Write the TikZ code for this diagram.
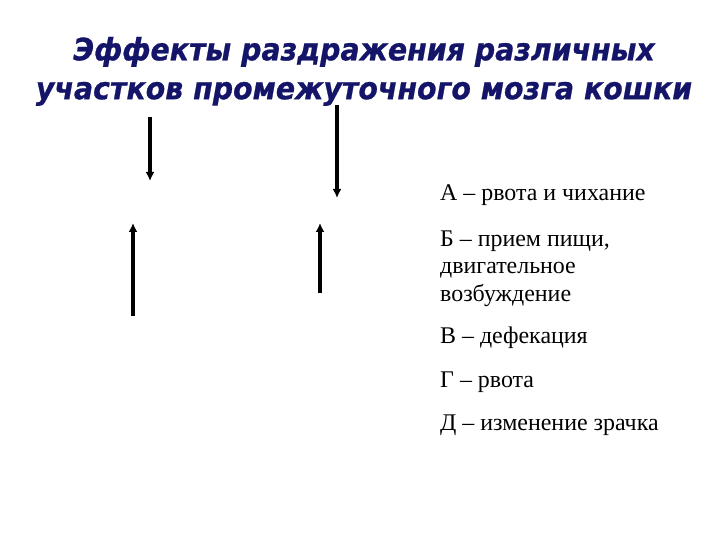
\documentclass[tikz,border=0pt]{standalone}
\usepackage{fontspec}
\setmainfont{Liberation Serif}
\newfontfamily\titlefont{DejaVu Sans}[BoldItalicFeatures = {FakeBold = 0.8}]
\usepackage{graphicx}
\usepackage{tikz}
\usetikzlibrary{arrows.meta}
\usetikzlibrary{positioning}
\definecolor{titleblue}{RGB}{20,20,105}

\begin{document}
\begin{tikzpicture}[x = 1bp, y = -1bp]
	\useasboundingbox (0, 0) rectangle (720, 540);
	\tikzset{
		arr/.style = {line width = 3.2bp, -{Latex[length = 9bp, width = 9bp]}},
		item/.style = {anchor = base west, inner sep = 0pt, font = \fontsize{24}{27.5}\selectfont, align = left}
	}
	% Title
	\node[inner sep = 0pt, text = titleblue] (title) at (364, 72) {\scalebox{0.92}[1]{\titlefont\bfseries\itshape\fontsize{31}{39}\selectfont
		\begin{tabular}{@{}c@{}}Эффекты раздражения различных\\участков промежуточного мозга кошки\end{tabular}}};

	% Arrow ends
	\coordinate (a1s) at (150, 117);
	\coordinate (a1e) at (150, 181);
	\coordinate (a2s) at (337, 105);
	\coordinate (a2e) at (337, 198);
	\coordinate (a3s) at (133, 316);
	\coordinate (a3e) at (133, 223);
	\coordinate (a4s) at (320, 293);
	\coordinate (a4e) at (320, 223);

	% Arrows
	\draw[arr] (a1s) -- (a1e);
	\draw[arr] (a2s) -- (a2e);
	\draw[arr] (a3s) -- (a3e);
	\draw[arr] (a4s) -- (a4e);

	% Legend
	\node[item] (itA) at (440, 201) {А – рвота и чихание};
	\node[item] (itB) at (440, 301) {Б – прием пищи,\\двигательное\\возбуждение};
	\node[item] (itV) at (440, 343) {В – дефекация};
	\node[item] (itG) at (440, 387) {Г – рвота};
	\node[item] (itD) at (440, 430) {Д – изменение зрачка};
\end{tikzpicture}
\end{document}
